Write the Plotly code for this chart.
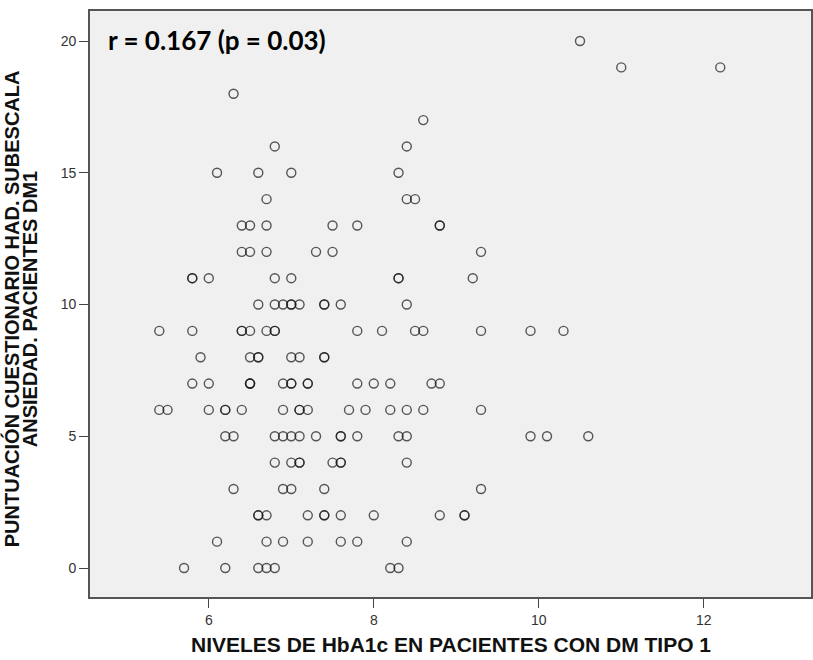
import plotly.graph_objects as go

# HbA1c (%) and HAD anxiety subscale score, one entry per patient (grouped by score)
hba1c = [
    10.5,
    11.0, 12.2,
    6.3,
    8.6,
    6.8, 8.4,
    6.1, 6.6, 7.0, 8.3,
    6.7, 8.4, 8.5,
    6.4, 6.5, 6.7, 7.5, 7.8, 8.8, 8.8,
    6.4, 6.5, 6.7, 7.3, 7.5, 9.3,
    5.8, 5.8, 6.0, 6.8, 7.0, 8.3, 8.3, 9.2,
    6.6, 6.8, 6.9, 7.0, 7.0, 7.1, 7.4, 7.4, 7.6, 8.4,
    5.4, 5.8, 6.4, 6.4, 6.5, 6.7, 6.8, 6.8, 7.8, 8.1, 8.5, 8.6, 9.3, 9.9, 10.3,
    5.9, 6.5, 6.6, 6.6, 7.0, 7.1, 7.4, 7.4,
    5.8, 6.0, 6.5, 6.5, 6.5, 6.9, 7.0, 7.0, 7.2, 7.2, 7.8, 8.0, 8.2, 8.7, 8.8,
    5.4, 5.5, 6.0, 6.2, 6.2, 6.4, 6.9, 7.1, 7.1, 7.2, 7.7, 7.9, 8.2, 8.4, 8.6, 9.3,
    6.2, 6.3, 6.8, 6.9, 7.0, 7.1, 7.3, 7.6, 7.6, 7.8, 8.3, 8.4, 9.9, 10.1, 10.6,
    6.8, 7.0, 7.1, 7.1, 7.5, 7.6, 7.6, 8.4,
    6.3, 6.9, 7.0, 7.4, 9.3,
    6.6, 6.6, 6.7, 7.2, 7.4, 7.4, 7.6, 8.0, 8.8, 9.1, 9.1,
    6.1, 6.7, 6.9, 7.2, 7.6, 7.8, 8.4,
    5.7, 6.2, 6.6, 6.7, 6.8, 8.2, 8.3,
]
ansiedad = (
    [20] * 1 + [19] * 2 + [18] * 1 + [17] * 1 + [16] * 2 + [15] * 4 + [14] * 3
    + [13] * 7 + [12] * 6 + [11] * 8 + [10] * 10 + [9] * 15 + [8] * 8 + [7] * 15
    + [6] * 16 + [5] * 15 + [4] * 8 + [3] * 5 + [2] * 11 + [1] * 7 + [0] * 7
)

x_ticks = [6, 8, 10, 12]
y_ticks = [0, 5, 10, 15, 20]
stat_label = "r = 0.167 (p = 0.03)"
x_title = "NIVELES DE HbA1c EN PACIENTES CON DM TIPO 1"
y_title_lines = ["PUNTUACIÓN CUESTIONARIO HAD. SUBESCALA", "ANSIEDAD. PACIENTES DM1"]

fig = go.Figure()
fig.add_trace(go.Scatter(
    x=hba1c, y=ansiedad, mode="markers",
    marker=dict(symbol="circle-open", size=9, color="rgba(25,25,25,0.72)",
                line=dict(width=1.4)),
    hoverinfo="x+y", showlegend=False,
))

axis_common = dict(
    showgrid=False, zeroline=False, showline=True, mirror=True,
    linecolor="#555555", linewidth=1.6,
    ticks="outside", ticklen=9, tickwidth=1.4, tickcolor="#444444",
    tickfont=dict(family="Liberation Sans, Arial", size=14, color="#333333"),
)

fig.update_layout(
    width=813, height=660,
    margin=dict(l=90, r=0, t=11, b=63),
    paper_bgcolor="white", plot_bgcolor="#f0f0f0",
    xaxis=dict(range=[4.56, 13.3], tickvals=x_ticks, **axis_common),
    yaxis=dict(range=[-1.1, 21.14], tickvals=y_ticks, **axis_common),
)

# correlation statistic in the upper left of the plot area
fig.add_annotation(
    text=stat_label, xref="paper", yref="paper",
    x=16 / 723, y=(597 - 40) / 586, xanchor="left", yanchor="middle",
    showarrow=False,
    font=dict(family="Lato, Liberation Sans", size=26, color="black", weight="bold"),
)

# x-axis title
fig.add_annotation(
    text=f"<b>{x_title}</b>", xref="paper", yref="paper",
    x=0.5, y=-(645 - 597) / 586, xanchor="center", yanchor="middle",
    showarrow=False,
    font=dict(family="Liberation Sans, Arial", size=21, color="#111111"),
)

# two-line rotated y-axis title
for i, line in enumerate(y_title_lines):
    fig.add_annotation(
        text=f"<b>{line}</b>", xref="paper", yref="paper",
        x=-(90 - (11 + 19 * i)) / 723, y=(597 - 309) / 586,
        xanchor="center", yanchor="middle", textangle=-90,
        showarrow=False,
        font=dict(family="Liberation Sans, Arial", size=20, color="#111111"),
    )

fig.write_html("out.html")
